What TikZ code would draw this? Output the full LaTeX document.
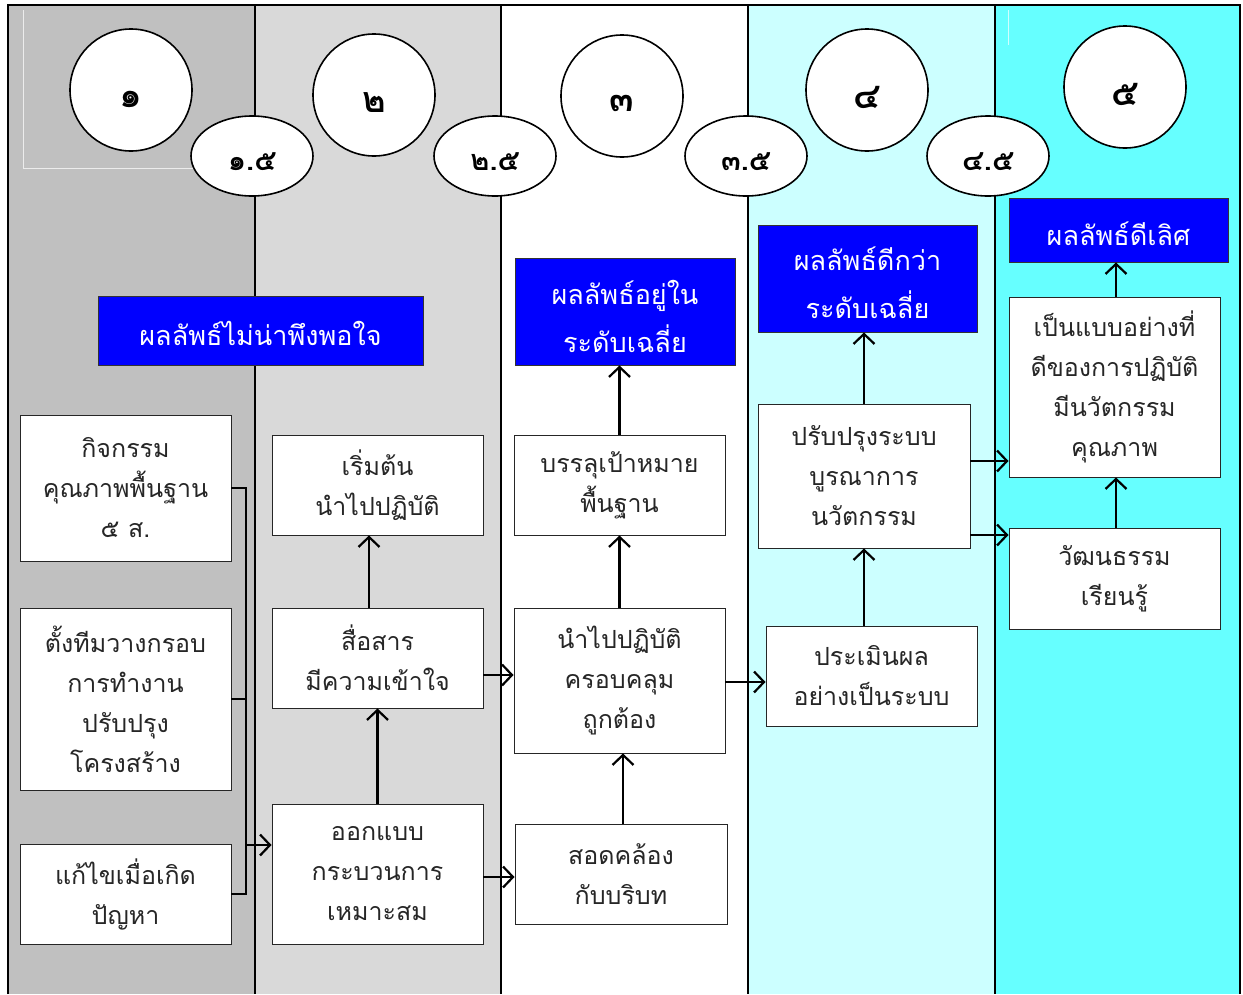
\documentclass[tikz,border=0pt]{standalone}
\usepackage{fontspec}
\setmainfont[Script=Thai]{Loma}
\usetikzlibrary{arrows.meta,shapes.geometric}
\definecolor{colA}{HTML}{C0C0C0}
\definecolor{colB}{HTML}{D9D9D9}
\definecolor{colD}{HTML}{CCFFFF}
\definecolor{colE}{HTML}{66FFFF}
\definecolor{bbox}{HTML}{0000FF}
\newcommand{\lowr}[2]{\raisebox{-#1}[\height][\depth]{#2}}
\newcommand{\lowtwo}[3]{\raisebox{-#1}[\height][\depth]{\begin{tabular}{@{}c@{}}#2\\#3\end{tabular}}}
\tikzset{
  wbox/.style={draw=black!85, line width=0.9pt, fill=white, align=center, inner sep=0pt,
     font=\fontsize{25}{40}\selectfont, text=black!85},
  bluebox/.style={draw=black!80, line width=0.9pt, fill=bbox, align=center, inner sep=0pt,
     font=\fontsize{27}{48}\selectfont, text=white},
  numcirc/.style={circle, draw=black, line width=1.6pt, fill=white, minimum size=122pt, inner sep=0pt,
     font=\bfseries\fontsize{36}{38}\selectfont},
  numell/.style={ellipse, draw=black, line width=1.6pt, fill=white, minimum width=122pt, minimum height=80pt, inner sep=0pt,
     font=\bfseries\fontsize{29}{30}\selectfont},
  arr/.style={line width=2.2pt, -{Straight Barb[length=10pt,width=21pt]}},
  plain/.style={line width=2.2pt},
}
\begin{document}
\begin{tikzpicture}[x=1pt,y=-1pt]
\useasboundingbox (0,0) rectangle (1243,994);
% columns
\fill[colA] (8,5) rectangle (255,994);
\fill[colB] (255,5) rectangle (501,994);
\fill[white] (501,5) rectangle (748,994);
\fill[colD] (748,5) rectangle (995,994);
\fill[colE] (995,5) rectangle (1240,994);
% faint artefact lines
\draw[white!85!gray, line width=0.6pt] (23,10) -- (23,168) -- (195,168);
\draw[white!70!colE, line width=0.6pt] (1008,10) -- (1008,45);
% frame
\draw[line width=2pt] (8,994) -- (8,5) -- (1240,5) -- (1240,994);
\foreach \x in {255,501,748,995} \draw[line width=1.6pt] (\x,5) -- (\x,994);

% circles
\node[numcirc] (n1) at (131,90) {\lowr{9pt}{๑}};
\node[numcirc] (n2) at (374,95) {\lowr{8pt}{๒}};
\node[numcirc] (n3) at (622,96) {\lowr{7pt}{๓}};
\node[numcirc] (n4) at (867,90) {\lowr{7pt}{๔}};
\node[numcirc] (n5) at (1125,87) {\lowr{7pt}{๕}};
\node[numell] (m1) at (252,156) {\lowr{6pt}{๑.๕}};
\node[numell] (m2) at (495,156) {\lowr{6pt}{๒.๕}};
\node[numell] (m3) at (746,156) {\lowr{6pt}{๓.๕}};
\node[numell] (m4) at (988,156) {\lowr{6pt}{๔.๕}};

% blue boxes
\node[bluebox, minimum width=325pt, minimum height=69pt] (r1) at (260.5,330.5) {\lowr{3pt}{ผลลัพธ์ไม่น่าพึงพอใจ}};
\node[bluebox, minimum width=220pt, minimum height=107pt] (r3) at (625,311.5) {\lowtwo{7pt}{ผลลัพธ์อยู่ใน}{ระดับเฉลี่ย}};
\node[bluebox, minimum width=219pt, minimum height=107pt] (r4) at (867.5,278.5) {\lowtwo{6pt}{ผลลัพธ์ดีกว่า}{ระดับเฉลี่ย}};
\node[bluebox, minimum width=219pt, minimum height=64pt] (r5) at (1118.5,230) {\lowr{4pt}{ผลลัพธ์ดีเลิศ}};

% white boxes
\node[wbox, minimum width=211pt, minimum height=146pt] (a1) at (125.5,488) {กิจกรรม\\คุณภาพพื้นฐาน\\๕ ส.};
\node[wbox, minimum width=211pt, minimum height=182pt] (a2) at (125.5,699) {ตั้งทีมวางกรอบ\\การทำงาน\\ปรับปรุง\\โครงสร้าง};
\node[wbox, minimum width=211pt, minimum height=100pt] (a3) at (125.5,894) {แก้ไขเมื่อเกิด\\ปัญหา};
\node[wbox, minimum width=211pt, minimum height=100pt] (b1) at (377.5,485) {เริ่มต้น\\นำไปปฏิบัติ};
\node[wbox, minimum width=211pt, minimum height=100pt] (b2) at (377.5,658) {สื่อสาร\\มีความเข้าใจ};
\node[wbox, minimum width=211pt, minimum height=140pt] (b3) at (377.5,874) {ออกแบบ\\กระบวนการ\\เหมาะสม};
\node[wbox, minimum width=211pt, minimum height=100pt] (c1) at (619.5,485) {บรรลุเป้าหมาย\\พื้นฐาน};
\node[wbox, minimum width=211pt, minimum height=145pt] (c2) at (619.5,680.5) {นำไปปฏิบัติ\\ครอบคลุม\\ถูกต้อง};
\node[wbox, minimum width=212pt, minimum height=100pt] (c3) at (621,874) {สอดคล้อง\\กับบริบท};
\node[wbox, minimum width=212pt, minimum height=144pt] (d1) at (864,476) {ปรับปรุงระบบ\\บูรณาการ\\นวัตกรรม};
\node[wbox, minimum width=211pt, minimum height=100pt] (d2) at (871.5,676) {ประเมินผล\\อย่างเป็นระบบ};
\node[wbox, minimum width=211pt, minimum height=180pt] (e1) at (1114.5,387) {เป็นแบบอย่างที่\\ดีของการปฏิบัติ\\มีนวัตกรรม\\คุณภาพ};
\node[wbox, minimum width=211pt, minimum height=101pt] (e2) at (1114.5,578.5) {วัฒนธรรม\\เรียนรู้};

% bus from column 1
\coordinate (bt) at (246,488);
\coordinate (bb) at (246,894);
\coordinate (bj) at (246,845);
\draw[plain] (a1.east) -- (bt) -- (bb) -- (a3.east);
\draw[plain] (a2.east) -- (a2.east -| bt);
\draw[arr] (bj) -- (bj -| b3.west);

% connectors
\draw[arr] (b3.north) -- (b2.south);
\draw[arr] (b2.north -| 369,0) -- (b1.south -| 369,0);
\draw[arr] (b2.east |- 0,675) -- (c2.west |- 0,675);
\draw[arr] (b3.east |- 0,877) -- (c3.west |- 0,877);
\draw[arr] (c3.north -| 623,0) -- (c2.south -| 623,0);
\draw[arr] (c2.north) -- (c1.south);
\draw[arr] (c1.north) -- (r3.south -| c1.north);
\draw[arr] (c2.east |- 0,682) -- (d2.west |- 0,682);
\draw[arr] (d2.north -| d1.south) -- (d1.south);
\draw[arr] (d1.north) -- (r4.south -| d1.north);
\draw[arr] (d1.east |- 0,461) -- (e1.west |- 0,461);
\draw[arr] (d1.east |- 0,535) -- (e2.west |- 0,535);
\draw[arr] (e2.north -| 1116,0) -- (e1.south -| 1116,0);
\draw[arr] (e1.north -| 1116,0) -- (r5.south -| 1116,0);
\end{tikzpicture}
\end{document}
